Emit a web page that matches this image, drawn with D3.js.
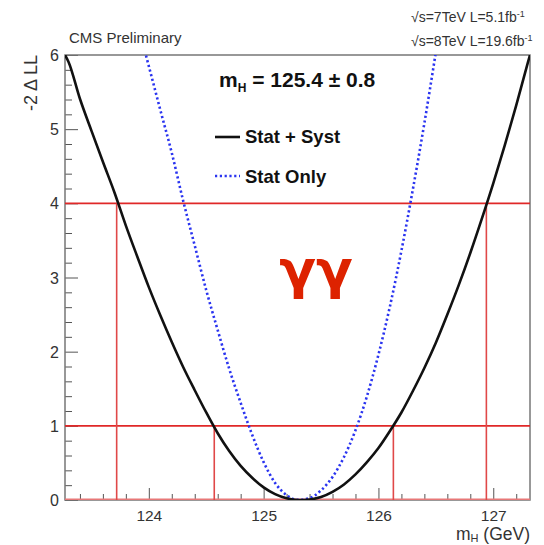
<!DOCTYPE html>
<html>
<head>
<meta charset="utf-8">
<script src="https://cdn.jsdelivr.net/npm/d3@7"></script>
<style>
  html, body { margin: 0; padding: 0; background: #fff; }
  svg { display: block; font-family: "Liberation Sans", Arial, Helvetica, sans-serif; }
</style>
</head>
<body>
<script>
// ---- Data ----
const xMajorTicks = [124, 125, 126, 127];
const yMajorTicks = [0, 1, 2, 3, 4, 5, 6];

// Stat + Syst scan (-2 Δ LL vs m_H)
const massStatSyst = [123.27, 123.3, 123.4, 123.5, 123.6, 123.7, 123.8, 123.9, 124.0, 124.1, 124.2,
  124.3, 124.4, 124.5, 124.6, 124.7, 124.8, 124.9, 125.0, 125.1, 125.2, 125.3, 125.4, 125.5,
  125.6, 125.7, 125.8, 125.9, 126.0, 126.1, 126.2, 126.3, 126.4, 126.5, 126.6, 126.7, 126.8,
  126.9, 127.0, 127.1, 127.2, 127.3, 127.32];
const nllStatSyst = [6.0, 5.91, 5.41, 4.98, 4.56, 4.15, 3.70, 3.28, 2.87, 2.49, 2.13,
  1.79, 1.48, 1.18, 0.90, 0.66, 0.46, 0.30, 0.17, 0.079, 0.023, 0.0, 0.007, 0.041,
  0.11, 0.21, 0.345, 0.51, 0.70, 0.93, 1.18, 1.47, 1.78, 2.12, 2.50, 2.90, 3.33,
  3.79, 4.27, 4.78, 5.32, 5.89, 6.0];

// Stat only scan
const massStatOnly = [123.9, 124.0, 124.1, 124.2, 124.3, 124.4, 124.5, 124.6, 124.7, 124.8, 124.9,
  125.0, 125.1, 125.2, 125.3, 125.4, 125.5, 125.6, 125.7, 125.8, 125.9, 126.0, 126.1, 126.2,
  126.3, 126.4, 126.5];
const nllStatOnly = [6.43, 5.85, 5.26, 4.68, 4.03, 3.43, 2.83, 2.29, 1.77, 1.31, 0.88,
  0.51, 0.23, 0.065, 0.002, 0.026, 0.13, 0.31, 0.58, 0.94, 1.40, 1.96, 2.61, 3.36,
  4.19, 5.08, 6.04];

// Interval lines
const levelLines = [0, 1, 4];
const oneSigma = [124.57, 126.13];
const twoSigma = [123.72, 126.94];

const xDomain = [123.27, 127.32];
const yDomain = [0, 6];

// ---- Layout ----
const W = 544, H = 545;
const L = 65, R = 530, T = 55, B = 500;

const svg = d3.select("body").append("svg").attr("width", W).attr("height", H);

const x = d3.scaleLinear().domain(xDomain).range([L, R]);
const y = d3.scaleLinear().domain(yDomain).range([B, T]);

// clip
svg.append("clipPath").attr("id", "plotclip")
  .append("rect").attr("x", L).attr("y", T).attr("width", R - L).attr("height", B - T);

// minor ticks
const xMinor = d3.range(123.4, 127.31, 0.2).map(v => +v.toFixed(1)).filter(v => !xMajorTicks.includes(v));
const yMinor = d3.range(0.2, 6, 0.2).map(v => +v.toFixed(1)).filter(v => !yMajorTicks.includes(v));

const axisColor = "#555";

const gxMinor = svg.append("g").attr("transform", `translate(0,${B})`)
  .call(d3.axisBottom(x).tickValues(xMinor).tickSize(-6).tickFormat(""));
const gx = svg.append("g").attr("transform", `translate(0,${B})`)
  .call(d3.axisBottom(x).tickValues(xMajorTicks).tickSize(-12).tickPadding(10).tickFormat(d3.format("d")));
const gyMinor = svg.append("g").attr("transform", `translate(${L},0)`)
  .call(d3.axisLeft(y).tickValues(yMinor).tickSize(-7).tickFormat(""));
const gy = svg.append("g").attr("transform", `translate(${L},0)`)
  .call(d3.axisLeft(y).tickValues(yMajorTicks).tickSize(-13).tickPadding(6).tickFormat(d3.format("d")));

[gxMinor, gx, gyMinor, gy].forEach(g => {
  g.select(".domain").remove();
  g.selectAll(".tick line").attr("stroke", axisColor).attr("stroke-width", 1);
  g.selectAll(".tick text").attr("fill", "#333").style("font-size", "16px")
    .style("font-family", "'Liberation Sans', Arial, sans-serif");
});
gx.selectAll(".tick text").style("font-size", "15.5px");
gy.selectAll(".tick text").attr("dy", "0.35em");

// frame
svg.append("rect").attr("x", L).attr("y", T).attr("width", R - L).attr("height", B - T)
  .attr("fill", "none").attr("stroke", "#777").attr("stroke-width", 1.5);

const plot = svg.append("g").attr("clip-path", "url(#plotclip)");

// red level lines
const red = "#e02828";
plot.selectAll("line.level").data(levelLines).enter().append("line")
  .attr("x1", L).attr("x2", R)
  .attr("y1", d => y(d)).attr("y2", d => y(d))
  .attr("stroke", d => d === 0 ? "#e87878" : red)
  .attr("stroke-width", d => d === 0 ? 3 : 1.6);

const verticals = [
  ...oneSigma.map(m => ({ m, top: 1 })),
  ...twoSigma.map(m => ({ m, top: 4 }))
];
plot.selectAll("line.vert").data(verticals).enter().append("line")
  .attr("x1", d => x(d.m)).attr("x2", d => x(d.m))
  .attr("y1", y(0)).attr("y2", d => y(d.top))
  .attr("stroke", "#e04848").attr("stroke-width", 1.6);

// curves
const line = d3.line().x(d => x(d[0])).y(d => y(d[1])).curve(d3.curveMonotoneX);

plot.append("path")
  .datum(d3.zip(massStatOnly, nllStatOnly))
  .attr("d", line)
  .attr("fill", "none").attr("stroke", "#2a34f0").attr("stroke-width", 2.6)
  .attr("stroke-dasharray", "2.2,2.6");

plot.append("path")
  .datum(d3.zip(massStatSyst, nllStatSyst))
  .attr("d", line)
  .attr("fill", "none").attr("stroke", "#111").attr("stroke-width", 2.6);

// ---- Texts ----
svg.append("text").attr("x", 69).attr("y", 43)
  .style("font-size", "15px").attr("fill", "#333").text("CMS Preliminary");

const lumi1 = svg.append("text").attr("x", 411).attr("y", 22).style("font-size", "14px").attr("fill", "#333");
lumi1.append("tspan").text("√s=7TeV L=5.1fb");
lumi1.append("tspan").attr("dy", -5).style("font-size", "9px").text("-1");
const lumi2 = svg.append("text").attr("x", 411).attr("y", 46).style("font-size", "14px").attr("fill", "#333");
lumi2.append("tspan").text("√s=8TeV L=19.6fb");
lumi2.append("tspan").attr("dy", -5).style("font-size", "9px").text("-1");

// result
const res = svg.append("text").attr("x", 219).attr("y", 87)
  .style("font-size", "21px").style("font-weight", "bold").attr("fill", "#111");
res.append("tspan").text("m");
res.append("tspan").attr("dy", 5).style("font-size", "12px").text("H");
res.append("tspan").attr("dy", -5).text(" = 125.4 ± 0.8");

// legend
svg.append("line").attr("x1", 215).attr("x2", 240).attr("y1", 137).attr("y2", 137)
  .attr("stroke", "#111").attr("stroke-width", 2.6);
svg.append("text").attr("x", 245).attr("y", 143)
  .style("font-size", "18.5px").style("font-weight", "bold").attr("fill", "#111").text("Stat + Syst");
svg.append("line").attr("x1", 215).attr("x2", 240).attr("y1", 176).attr("y2", 176)
  .attr("stroke", "#2a34f0").attr("stroke-width", 2.6).attr("stroke-dasharray", "2.2,2.6");
svg.append("text").attr("x", 245).attr("y", 183)
  .style("font-size", "18.5px").style("font-weight", "bold").attr("fill", "#111").text("Stat Only");

// γγ
svg.append("text").attr("x", 316).attr("y", 288).attr("text-anchor", "middle")
  .style("font-size", "54px").style("font-weight", "bold").attr("fill", "#dd2200")
  .style("font-family", "'DejaVu Sans', sans-serif").text("γγ");

// axis titles
const xt = svg.append("text").attr("x", 530).attr("y", 540).attr("text-anchor", "end")
  .style("font-size", "17.5px").attr("fill", "#333");
xt.append("tspan").text("m");
xt.append("tspan").attr("dy", 2).style("font-size", "11px").text("H");
xt.append("tspan").attr("dy", -2).text(" (GeV)");

svg.append("text").attr("transform", "translate(37,55) rotate(-90)").attr("text-anchor", "end")
  .style("font-size", "18px").attr("fill", "#333").text("-2 Δ LL");
</script>
</body>
</html>
